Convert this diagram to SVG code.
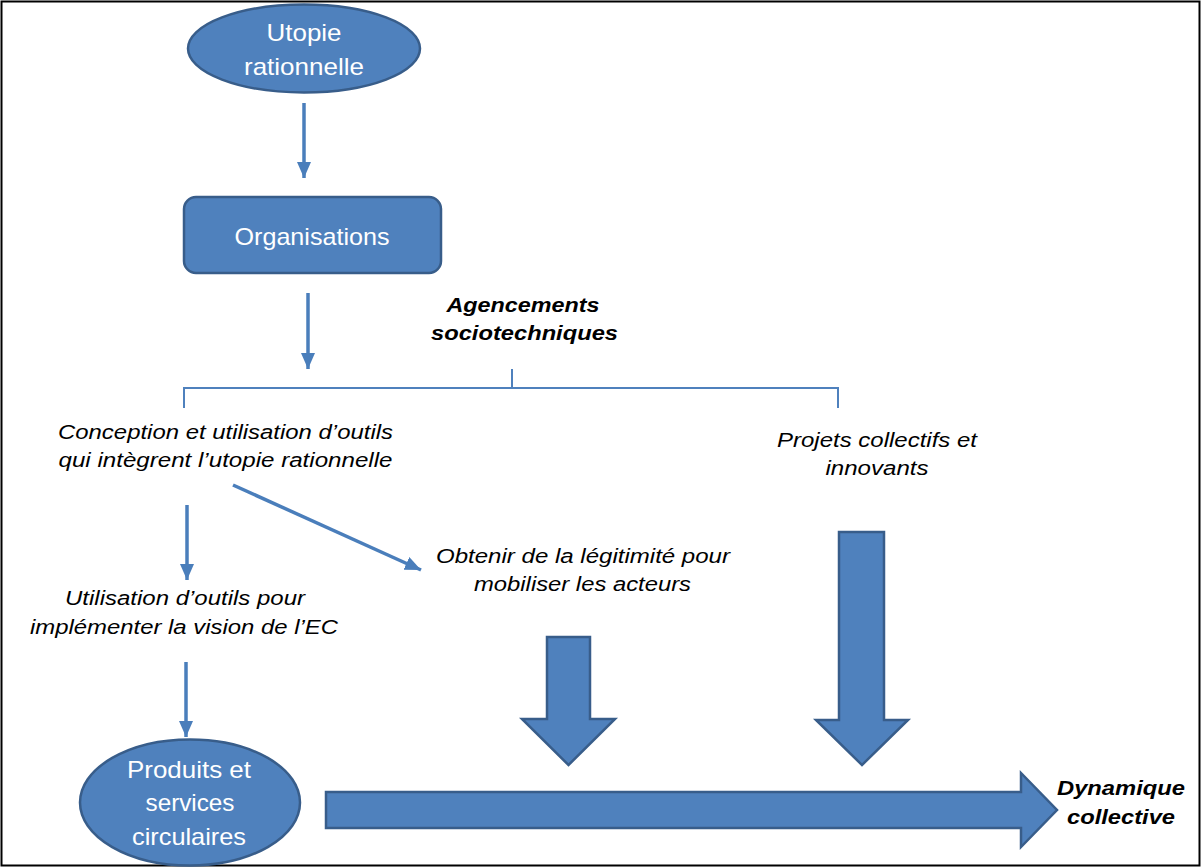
<svg xmlns="http://www.w3.org/2000/svg" width="1202" height="868" viewBox="0 0 1202 868">
<style>
.shape{fill:#4F81BD;stroke:#385D8A;stroke-width:2.5}
.ntxt{font-family:"Liberation Sans",Arial,sans-serif;font-size:24px;fill:#ffffff;text-anchor:middle}
.itxt{font-family:"Liberation Sans",Arial,sans-serif;font-size:20px;font-style:italic;fill:#000;text-anchor:middle}
.btxt{font-family:"Liberation Sans",Arial,sans-serif;font-size:20px;font-style:italic;font-weight:bold;fill:#000;text-anchor:middle}
.thin{stroke:#4A7EBB;stroke-width:3.5;fill:none}
.bracket{stroke:#4F81BD;stroke-width:2;fill:none}
</style>
<defs>
<marker id="ah" markerUnits="userSpaceOnUse" markerWidth="18" markerHeight="16" refX="16" refY="7" orient="auto">
<path d="M0,0 L16,7 L0,14 Z" fill="#4A7EBB"/>
</marker>
</defs>
<rect x="1.5" y="1.5" width="1198" height="864" fill="#ffffff" stroke="#000" stroke-width="2"/>

<g id="connectors">
<line class="thin" x1="304" y1="103" x2="304" y2="178" marker-end="url(#ah)"/>
<line class="thin" x1="308" y1="293" x2="308" y2="369" marker-end="url(#ah)"/>
<path class="bracket" d="M184,408 V388 H838 V408 M512,369 V388"/>
<line class="thin" x1="233" y1="485" x2="421" y2="570" marker-end="url(#ah)"/>
<line class="thin" x1="187" y1="505" x2="187" y2="580" marker-end="url(#ah)"/>
<line class="thin" x1="186" y1="662" x2="186" y2="737" marker-end="url(#ah)"/>
<path class="shape" d="M547,637 H590 V719 H615 L568.5,765 L522,719 H547 Z"/>
<path class="shape" d="M839,532 H884 V720 H908 L862,765 L816,720 H839 Z"/>
<path class="shape" d="M326,792 H1021 V773 L1057,810 L1021,847 V828 H326 Z"/>
</g>

<g id="utopie">
<ellipse class="shape" cx="304" cy="48.5" rx="116" ry="44"/>
<text class="ntxt" x="304" y="41" textLength="75" lengthAdjust="spacingAndGlyphs">Utopie</text>
<text class="ntxt" x="304" y="75" textLength="120" lengthAdjust="spacingAndGlyphs">rationnelle</text>
</g>

<g id="organisations">
<rect class="shape" x="184" y="197" width="257" height="76" rx="12" ry="12"/>
<text class="ntxt" x="312" y="245" textLength="155" lengthAdjust="spacingAndGlyphs">Organisations</text>
</g>

<g id="agencements">
<text class="btxt" x="523" y="312" textLength="153" lengthAdjust="spacingAndGlyphs">Agencements</text>
<text class="btxt" x="524.5" y="340" textLength="187" lengthAdjust="spacingAndGlyphs">sociotechniques</text>
</g>

<g id="conception">
<text class="itxt" x="225.5" y="439" textLength="335" lengthAdjust="spacingAndGlyphs">Conception et utilisation d’outils</text>
<text class="itxt" x="225.5" y="467" textLength="334" lengthAdjust="spacingAndGlyphs">qui intègrent l’utopie rationnelle</text>
</g>

<g id="projets">
<text class="itxt" x="877" y="447" textLength="200" lengthAdjust="spacingAndGlyphs">Projets collectifs et</text>
<text class="itxt" x="877" y="475" textLength="103" lengthAdjust="spacingAndGlyphs">innovants</text>
</g>

<g id="obtenir">
<text class="itxt" x="583" y="563" textLength="294" lengthAdjust="spacingAndGlyphs">Obtenir de la légitimité pour</text>
<text class="itxt" x="582.5" y="591" textLength="217" lengthAdjust="spacingAndGlyphs">mobiliser les acteurs</text>
</g>

<g id="utilisation">
<text class="itxt" x="185" y="605" textLength="240" lengthAdjust="spacingAndGlyphs">Utilisation d’outils pour</text>
<text class="itxt" x="184" y="634" textLength="308" lengthAdjust="spacingAndGlyphs">implémenter la vision de l’EC</text>
</g>

<g id="produits">
<ellipse class="shape" cx="190" cy="802.5" rx="110" ry="63"/>
<text class="ntxt" x="189" y="778" textLength="124" lengthAdjust="spacingAndGlyphs">Produits et</text>
<text class="ntxt" x="190" y="811" textLength="89" lengthAdjust="spacingAndGlyphs">services</text>
<text class="ntxt" x="189" y="845" textLength="114" lengthAdjust="spacingAndGlyphs">circulaires</text>
</g>

<g id="dynamique">
<text class="btxt" x="1121" y="795" textLength="128" lengthAdjust="spacingAndGlyphs">Dynamique</text>
<text class="btxt" x="1121" y="824" textLength="108" lengthAdjust="spacingAndGlyphs">collective</text>
</g>
</svg>
